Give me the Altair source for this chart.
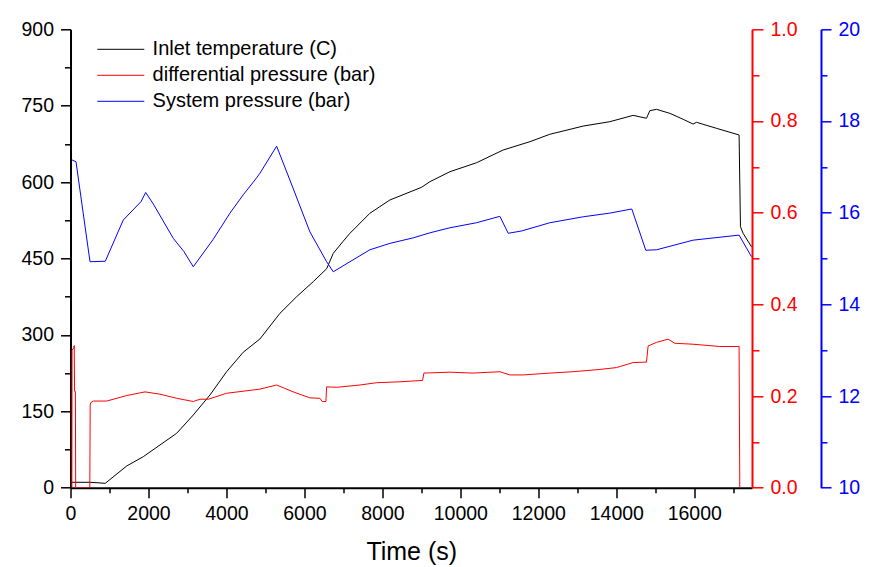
import altair as alt
import pandas as pd

FONT = "Liberation Sans"

# ---- data ----
names = ["Inlet temperature (C)", "differential pressure (bar)", "System pressure (bar)"]
colors = ["#000000", "#FF0000", "#0000FF"]

time_T = [30, 500, 892, 1441, 1867, 2723, 3149, 3577, 4005, 4431, 4859, 5372, 5800,
          6226, 6569, 6739, 6995, 7167, 7679, 8192, 9005, 9218, 9731, 10415, 11097,
          11782, 12295, 13150, 13833, 14431, 14774, 14859, 15031, 15372, 15713, 15969,
          16056, 16569, 17149, 17184, 17252, 17466]
temp_T = [10.6, 10.6, 8.6, 42.6, 60.9, 106.8, 142.7, 182, 227.8, 266, 292, 342.4, 375,
          404.5, 429.8, 460, 484, 499.5, 538.8, 564.9, 589.8, 600.8, 620.4, 638, 663,
          679.3, 693.9, 710, 718.6, 731, 725.3, 740.2, 742.9, 735, 723.3, 714,
          717.4, 705.6, 692.5, 512.5, 499.5, 473]

time_dp = [35, 40, 85, 95, 105, 125, 133, 495, 505, 517, 585, 928, 1441, 1910, 2295,
           2723, 3149, 3321, 3534, 4005, 4859, 5287, 5713, 6141, 6397, 6457, 6551, 6569,
           6826, 7423, 7851, 8449, 9031, 9064, 9731, 10328, 11013, 11269, 11610, 12295,
           12892, 13577, 14005, 14431, 14774, 14815, 15031, 15329, 15500, 15969, 16654,
           17149, 17167, 17170]
dp = [0.0, 0.30, 0.305, 0.31, 0.21, 0.21, 0.0, 0.0, 0.18, 0.185, 0.189, 0.189, 0.201,
      0.209, 0.204, 0.195, 0.188, 0.193, 0.193, 0.206, 0.215, 0.224, 0.209, 0.196, 0.195,
      0.188, 0.188, 0.220, 0.219, 0.224, 0.229, 0.231, 0.234, 0.250, 0.252, 0.250, 0.253,
      0.246, 0.246, 0.250, 0.253, 0.258, 0.262, 0.273, 0.274, 0.309, 0.317, 0.324, 0.315,
      0.313, 0.308, 0.308, 0.0, 0.0]

time_sp = [40, 141, 500, 892, 1354, 1808, 1928, 2123, 2636, 2910, 3149, 3662, 4090,
           4431, 4774, 4859, 5287, 5628, 6141, 6569, 6739, 7167, 7679, 8192, 8790, 9218,
           9731, 10415, 11013, 11227, 11568, 12295, 13150, 13833, 14397, 14756, 15031,
           15969, 17149, 17466]
sp = [17.15, 17.11, 14.93, 14.94, 15.84, 16.24, 16.44, 16.19, 15.44, 15.15, 14.82, 15.42,
      15.99, 16.39, 16.76, 16.86, 17.45, 16.71, 15.58, 14.93, 14.71, 14.93, 15.19, 15.33,
      15.45, 15.56, 15.67, 15.78, 15.92, 15.55, 15.60, 15.78, 15.91, 15.99, 16.08, 15.18,
      15.19, 15.40, 15.51, 15.04]

x_ticks = list(range(0, 17001, 1000))
left_ticks = list(range(0, 901, 75))
red_ticks = [round(i * 0.1, 1) for i in range(11)]
blue_ticks = list(range(10, 21))

df_T = pd.DataFrame({"t": time_T, "v": temp_T, "series": names[0]})
df_dp = pd.DataFrame({"t": time_dp, "v": dp, "series": names[1]})
df_sp = pd.DataFrame({"t": time_sp, "v": sp, "series": names[2]})

color_scale = alt.Scale(domain=names, range=colors)
# a horizontal line symbol, 10 units wide -> 5*sqrt(size) px long
legend = alt.Legend(
    orient="none", legendX=40.3, legendY=10, title=None,
    symbolType="M-5,0H5", symbolSize=88.4, symbolStrokeWidth=1,
    symbolFillColor="transparent",
    labelFont=FONT, labelFontSize=20, labelColor="#000000", labelLimit=500,
    labelOffset=21.8, rowPadding=6, padding=0,
)
color_enc = alt.Color("series:N", scale=color_scale, legend=legend)

x_axis = alt.Axis(
    values=x_ticks, format="d",
    labelExpr="datum.value % 2000 === 0 ? datum.label : ''",
    tickSize={"condition": {"test": "datum.value % 2000 === 0", "value": 10}, "value": 5},
    labelFont=FONT, labelFontSize=19.5, labelColor="#000000", labelPadding=7,
    domainColor="#000000", domainWidth=2, tickColor="#000000", tickWidth=1.5,
    title="Time (s)", titleFont=FONT, titleFontSize=25, titleFontWeight="normal",
    titleColor="#000000", titlePadding=16, grid=False, labelFlush=False,
)
x_enc = alt.X("t:Q", scale=alt.Scale(domain=[0, 17480], nice=False, zero=False), axis=x_axis)


def yaxis(values, test, color, major, minor, orient, offset, fmt):
    return alt.Axis(
        orient=orient, offset=offset, values=values, format=fmt,
        labelExpr=f"({test}) ? datum.label : ''",
        tickSize={"condition": {"test": test, "value": major}, "value": minor},
        labelFont=FONT, labelFontSize=19.5, labelColor=color, labelPadding=7,
        domainColor=color, domainWidth=2, tickColor=color, tickWidth=1.5,
        title=None, grid=False, labelFlush=False,
    )


line_T = alt.Chart(df_T).mark_line(strokeWidth=1, clip=True).encode(
    x=x_enc,
    y=alt.Y("v:Q", scale=alt.Scale(domain=[0, 900], nice=False),
            axis=yaxis(left_ticks, "datum.value % 150 === 0", "#000000", 10, 6, "left", 0, "d")),
    color=color_enc,
)
line_dp = alt.Chart(df_dp).mark_line(strokeWidth=1, clip=True).encode(
    x=x_enc,
    y=alt.Y("v:Q", scale=alt.Scale(domain=[0, 1], nice=False),
            axis=yaxis(red_ticks, "round(datum.value * 10) % 2 === 0", "#FF0000", 11, 7, "right", 0, ".1f")),
    color=color_enc,
)
line_sp = alt.Chart(df_sp).mark_line(strokeWidth=1, clip=True).encode(
    x=x_enc,
    y=alt.Y("v:Q", scale=alt.Scale(domain=[10, 20], nice=False),
            axis=yaxis(blue_ticks, "datum.value % 2 === 0", "#0000FF", 10, 6, "right", 69, "d")),
    color=color_enc,
)

chart = (
    alt.layer(line_T, line_dp, line_sp)
    .resolve_scale(y="independent")
    .properties(
        width=681.5, height=458.4,
        padding={"left": 62.5, "top": 21.3, "right": 110, "bottom": 80},
        autosize=alt.AutoSizeParams(type="none"),
        background="#FFFFFF",
    )
    .configure_view(stroke=None)
)

chart.save("out.html", embed_options={"renderer": "svg", "actions": False})
